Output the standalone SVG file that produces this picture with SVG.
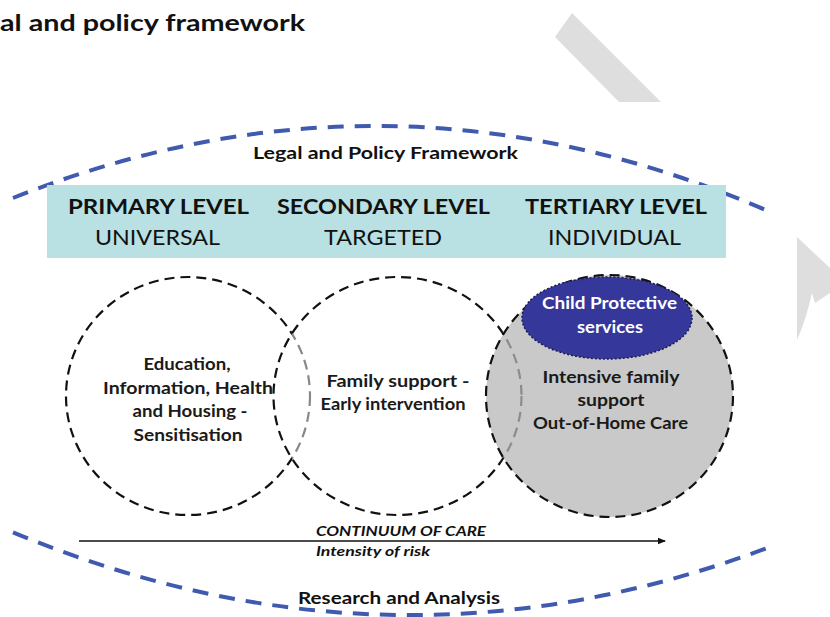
<svg xmlns="http://www.w3.org/2000/svg" width="830" height="617" viewBox="0 0 830 617">
<defs>
<style>
text{font-family:Lato,"Open Sans","Liberation Sans",sans-serif;fill:#111;text-anchor:middle}
.b{font-weight:700}
.arc{fill:none;stroke:#3f5aae;stroke-width:4;stroke-dasharray:16 11}
.circ{stroke:#111;stroke-width:2.2;stroke-dasharray:10 6}
.wm{fill:#dedede}
.ct{font-size:17px;font-weight:700;fill:#1a1a1a}
</style>
<marker id="ah" markerWidth="8" markerHeight="8" refX="7" refY="4" orient="auto" markerUnits="userSpaceOnUse">
<path d="M0,0.8 L8,4 L0,7.2 Z" fill="#111"/>
</marker>
</defs>
<rect width="830" height="617" fill="#fff"/>
<g id="watermark">
<polygon class="wm" points="572,13 555,37 619,102 661,102"/>
<path class="wm" d="M797,237 L830,268 L830,293 L815,303 L812,293 Q806,320 797,340 Z"/>
</g>
<g id="title"><text x="0" y="31" class="b" style="text-anchor:start;font-size:23px" textLength="305" lengthAdjust="spacingAndGlyphs">al and policy framework</text></g>
<g id="legal-framework">
<path class="arc" d="M13,198 Q393.5,46.5 774,213.6"/>
<text x="385.5" y="159" class="b" style="font-size:17px" textLength="265" lengthAdjust="spacingAndGlyphs">Legal and Policy Framework</text>
</g>
<g id="levels">
<rect x="47" y="185" width="679" height="73" fill="#b9e0e3"/>
<g id="primary-level">
<text x="158.5" y="214" class="b" style="font-size:21px" textLength="181" lengthAdjust="spacingAndGlyphs">PRIMARY LEVEL</text>
<text x="157.5" y="245" style="font-size:20.5px" textLength="125" lengthAdjust="spacingAndGlyphs">UNIVERSAL</text>
</g>
<g id="secondary-level">
<text x="383.5" y="214" class="b" style="font-size:21px" textLength="213" lengthAdjust="spacingAndGlyphs">SECONDARY LEVEL</text>
<text x="383" y="245" style="font-size:20.5px" textLength="118" lengthAdjust="spacingAndGlyphs">TARGETED</text>
</g>
<g id="tertiary-level">
<text x="616" y="214" class="b" style="font-size:21px" textLength="182" lengthAdjust="spacingAndGlyphs">TERTIARY LEVEL</text>
<text x="614.5" y="245" style="font-size:20.5px" textLength="133" lengthAdjust="spacingAndGlyphs">INDIVIDUAL</text>
</g>
</g>
<g id="circle-primary">
<ellipse class="circ" cx="188" cy="396" rx="122" ry="119" fill="none"/>
<text x="187" y="370" class="ct" textLength="87" lengthAdjust="spacingAndGlyphs">Education,</text>
<text x="188" y="394" class="ct" textLength="170" lengthAdjust="spacingAndGlyphs">Information, Health</text>
<text x="190" y="417" class="ct" textLength="115" lengthAdjust="spacingAndGlyphs">and Housing -</text>
<text x="188" y="441" class="ct" textLength="109" lengthAdjust="spacingAndGlyphs">Sensitisation</text>
</g>
<g id="circle-secondary">
<ellipse class="circ" cx="397.5" cy="396" rx="124" ry="119" fill="#fff" fill-opacity="0.5"/>
<text x="398" y="387" class="ct" textLength="143" lengthAdjust="spacingAndGlyphs">Family support -</text>
<text x="393" y="410" class="ct" textLength="145" lengthAdjust="spacingAndGlyphs">Early intervention</text>
</g>
<g id="circle-tertiary">
<ellipse class="circ" cx="609.5" cy="396" rx="123.5" ry="121" fill="#b6b6b6" fill-opacity="0.745"/>
<text x="611" y="383" class="ct" textLength="137" lengthAdjust="spacingAndGlyphs">Intensive family</text>
<text x="611" y="406" class="ct" textLength="67" lengthAdjust="spacingAndGlyphs">support</text>
<text x="610.5" y="429" class="ct" textLength="155" lengthAdjust="spacingAndGlyphs">Out-of-Home Care</text>
</g>
<g id="child-protective-services">
<ellipse cx="607" cy="318" rx="85" ry="41" fill="#35379a" stroke="#1c1c55" stroke-width="1.5" stroke-dasharray="2 2"/>
<text x="609.5" y="309" class="ct" style="fill:#fff" textLength="135" lengthAdjust="spacingAndGlyphs">Child Protective</text>
<text x="610" y="333" class="ct" style="fill:#fff" textLength="66" lengthAdjust="spacingAndGlyphs">services</text>
</g>
<g id="connectors">
<line x1="79" y1="541" x2="665" y2="541" stroke="#111" stroke-width="1.6" marker-end="url(#ah)"/>
</g>
<g id="continuum-labels">
<text x="316" y="536" class="b" style="text-anchor:start;font-size:13.5px;font-style:italic" textLength="170" lengthAdjust="spacingAndGlyphs">CONTINUUM OF CARE</text>
<text x="316" y="556" class="b" style="text-anchor:start;font-size:13.5px;font-style:italic" textLength="114" lengthAdjust="spacingAndGlyphs">Intensity of risk</text>
</g>
<g id="research-analysis">
<path class="arc" d="M13,532.3 Q393.5,691 774,545.4"/>
<text x="399" y="604" class="b" style="font-size:17px" textLength="202" lengthAdjust="spacingAndGlyphs">Research and Analysis</text>
</g>
</svg>
